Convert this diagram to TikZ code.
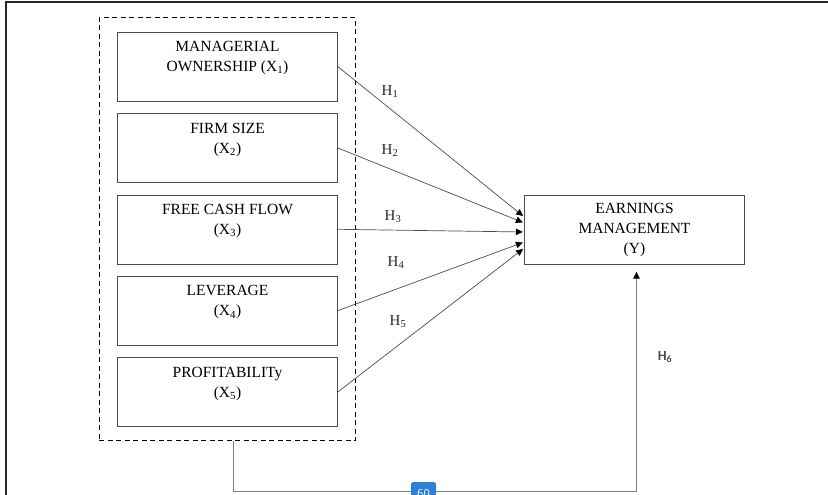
\documentclass[tikz,border=0pt]{standalone}
\usepackage{fontspec}
\setmainfont{Liberation Serif}
\newfontfamily\hsixfont{Carlito}
\newfontfamily\badgefont{Open Sans}
\usetikzlibrary{positioning,arrows.meta,fit}
\definecolor{badgeblue}{HTML}{2F7FD8}

\begin{document}
\begin{tikzpicture}[
x=1pt, y=-1pt,
node distance=12pt,
>={Triangle[length=7pt,width=6.5pt,color=black]},
varbox/.style={
draw=black!70,
minimum width=220pt,
minimum height=69pt,
inner sep=0pt,
align=center,
font=\fontsize{15.5}{20}\selectfont},
hyp/.style={->, draw=black!70, line width=0.7pt, shorten >=1.5pt},
hlabel/.style={font=\fontsize{15}{17}\selectfont, text=black!85}
]
\useasboundingbox (0,0) rectangle (828,495);
\clip (0,0) rectangle (828,495);

% frame of the page
\draw[line width=1.6pt, black!85] (6,495) -- (6,2) -- (828,2);

% independent variables
\node[varbox] (x1) at (227.5,66.5) {MANAGERIAL\\OWNERSHIP (X\textsubscript{1})\\\mbox{}};
\node[varbox] (x2) [below=of x1] {FIRM SIZE\\(X\textsubscript{2})\\\mbox{}};
\node[varbox] (x3) [below=of x2] {FREE CASH FLOW\\(X\textsubscript{3})\\\mbox{}};
\node[varbox] (x4) [below=of x3] {LEVERAGE\\(X\textsubscript{4})\\\mbox{}};
\node[varbox] (x5) [below=of x4] {PROFITABILITy\\(X\textsubscript{5})\\\mbox{}};

\node[draw, line width=1.2pt, dash pattern=on 5pt off 3.5pt,
fit=(x1)(x5), inner xsep=18pt, inner ysep=14pt] (grp) {};

% dependent variable
\node[varbox] (earn) at (634.5,230) {EARNINGS\\MANAGEMENT\\(Y)};

\draw[hyp] (x1.east) -- ([yshift=13pt]earn.west);
\draw[hyp] (x2.east) -- ([yshift=7pt]earn.west);
\draw[hyp] (x3.east) -- ([yshift=-2pt]earn.west);
\draw[hyp] (x4.east) -- ([yshift=-12pt]earn.west);
\draw[hyp] (x5.east) -- ([yshift=-18pt]earn.west);

\draw[->, draw=black!50, line width=1pt]
([xshift=6pt]grp.south) |- ([xshift=2pt,yshift=-227pt]earn.south)
-- ([xshift=2pt,yshift=-7pt]earn.south);

\node[hlabel] (h1) at (390,92) {H\textsubscript{1}};
\node[hlabel] (h2) at (390,151) {H\textsubscript{2}};
\node[hlabel] (h3) at (393,217) {H\textsubscript{3}};
\node[hlabel] (h4) at (396,263) {H\textsubscript{4}};
\node[hlabel] (h5) at (398,322) {H\textsubscript{5}};
\node[font=\hsixfont\bfseries\fontsize{14}{16}\selectfont, text=black!70] (h6) at (665,357) {H\textsubscript{6}};

% page badge
\node[fill=badgeblue, rounded corners=2pt, minimum width=25pt, minimum height=22pt,
inner sep=1pt, anchor=north, text=white, font=\badgefont\fontsize{11}{13}\selectfont]
(badge) at (423.5,482) {60};

\end{tikzpicture}
\end{document}
